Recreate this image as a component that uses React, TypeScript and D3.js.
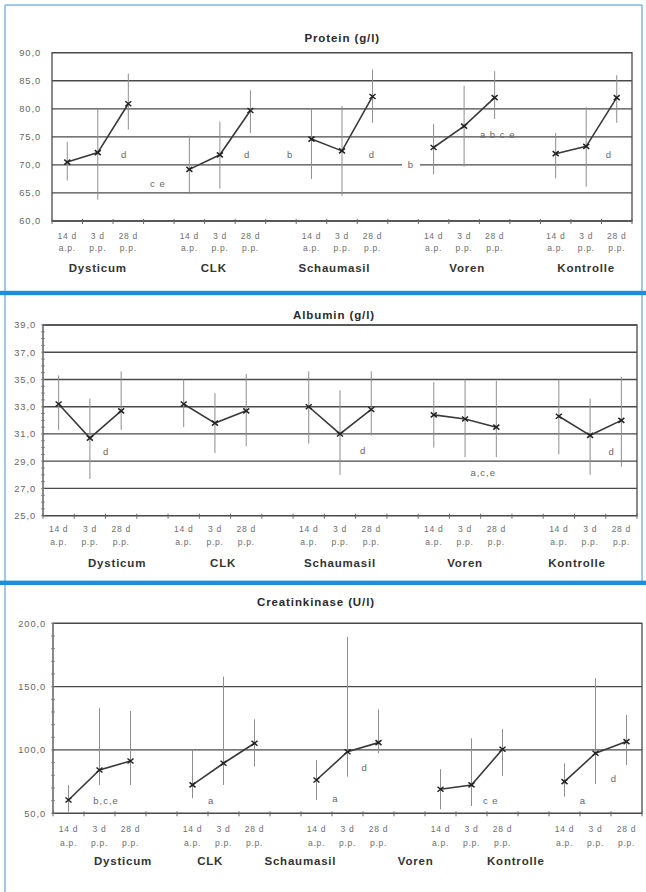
import React, { useEffect } from "react";
import * as d3 from "d3";

// ---------- data ----------
const groups = ["Dysticum", "CLK", "Schaumasil", "Voren", "Kontrolle"];
const timeTop = ["14 d", "3 d", "28 d"];
const timeBottom = ["a.p.", "p.p.", "p.p."];

const proteinMean = [70.5, 72.2, 80.9, 69.2, 71.8, 79.7, 74.6, 72.5, 82.2, 73.1, 76.9, 82.0, 72.0, 73.3, 82.0];
const proteinHigh = [74.1, 80.0, 86.3, 75.2, 77.7, 83.3, 80.0, 80.5, 87.0, 77.3, 84.1, 86.7, 75.7, 80.3, 86.0];
const proteinLow = [67.2, 63.8, 76.3, 64.8, 65.8, 75.7, 67.5, 64.5, 77.5, 68.3, 69.7, 78.2, 67.6, 66.1, 77.5];
const proteinTicks = [60, 65, 70, 75, 80, 85, 90];
const proteinNotes = [
  { t: "d", s: 1.86, v: 71.8, mask: false },
  { t: "c e", s: 2.97, v: 66.7, mask: false },
  { t: "d", s: 5.89, v: 71.8, mask: false },
  { t: "b", s: 7.3, v: 71.8, mask: false },
  { t: "d", s: 9.98, v: 71.8, mask: false },
  { t: "b", s: 11.26, v: 70.0, mask: true },
  { t: "a b c e", s: 14.1, v: 75.5, mask: false },
  { t: "d", s: 17.74, v: 71.8, mask: false },
];
const proteinGroupPos = [1, 4.8, 8.75, 13.1, 17];

const albuminMean = [33.2, 30.7, 32.7, 33.2, 31.8, 32.7, 33.0, 31.0, 32.8, 32.4, 32.1, 31.5, 32.3, 30.9, 32.0];
const albuminHigh = [35.3, 33.6, 35.6, 35.0, 34.0, 35.4, 35.6, 34.2, 35.6, 34.8, 35.0, 34.9, 35.0, 33.6, 35.2];
const albuminLow = [31.3, 27.7, 31.3, 31.5, 29.6, 30.1, 30.3, 28.0, 30.9, 30.0, 29.3, 29.3, 29.5, 28.0, 28.6];
const albuminTicks = [25, 27, 29, 31, 33, 35, 37, 39];
const albuminNotes = [
  { t: "d", s: 1.52, v: 29.7, mask: false },
  { t: "d", s: 9.74, v: 29.75, mask: false },
  { t: "a,c,e", s: 13.58, v: 28.2, mask: false },
  { t: "d", s: 17.69, v: 29.7, mask: false },
];
const albuminGroupPos = [1.87, 5.26, 9.0, 13.0, 16.58];

const ckMean = [60.5, 84.2, 91.3, 72.4, 89.5, 105.3, 76.3, 98.6, 105.8, 69.0, 72.4, 100.6, 75.0, 97.4, 106.6];
const ckHigh = [72.4, 132.9, 130.8, 100, 157.9, 124.2, 92.1, 189.4, 132.1, 84.8, 109.2, 116.6, 89.5, 156.6, 127.6];
const ckLow = [51.3, 72.4, 72.4, 61.9, 72.4, 86.8, 60.5, 78.9, 97.4, 53.2, 55.8, 79.5, 63.1, 73.2, 88.2];
const ckTicks = [50, 100, 150, 200];
const ckNotes = [
  { t: "b,c,e", s: 1.21, v: 60.5, mask: false },
  { t: "a", s: 4.6, v: 60.5, mask: false },
  { t: "a", s: 8.61, v: 61.3, mask: false },
  { t: "d", s: 9.55, v: 85.8, mask: false },
  { t: "c e", s: 13.62, v: 60.5, mask: false },
  { t: "a", s: 16.59, v: 60.5, mask: false },
  { t: "d", s: 17.59, v: 77.1, mask: false },
];
const ckGroupPos = [1.76, 4.57, 7.48, 11.2, 14.43];

// ---------- layout ----------
const FONT = "'Liberation Sans', Arial, sans-serif";
const slots: string[] = [];
groups.forEach((g, gi) => {
  timeTop.forEach((_, ti) => slots.push(`${g}-${ti}`));
  if (gi < groups.length - 1) slots.push(`gap-${gi}`);
});

type Note = { t: string; s: number; v: number; mask: boolean };
type PanelCfg = {
  title: string;
  titleEndX: number;
  titleY: number;
  left: number;
  right: number;
  top: number;
  bottom: number;
  labelGap: number;
  domain: [number, number];
  ticks: number[];
  minorStep: number;
  mean: number[];
  high: number[];
  low: number[];
  notes: Note[];
  groupPos: number[];
  sub1: number;
  sub2: number;
  groupY: number;
};

const panels: PanelCfg[] = [
  {
    title: "Protein (g/l)", titleEndX: 380, titleY: 42,
    left: 52, right: 632, top: 52.7, bottom: 221, labelGap: 11,
    domain: [60, 90], ticks: proteinTicks, minorStep: 0,
    mean: proteinMean, high: proteinHigh, low: proteinLow,
    notes: proteinNotes, groupPos: proteinGroupPos,
    sub1: 239, sub2: 251, groupY: 272,
  },
  {
    title: "Albumin (g/l)", titleEndX: 375, titleY: 319,
    left: 43, right: 637, top: 325, bottom: 515.7, labelGap: 7,
    domain: [25, 39], ticks: albuminTicks, minorStep: 0.5,
    mean: albuminMean, high: albuminHigh, low: albuminLow,
    notes: albuminNotes, groupPos: albuminGroupPos,
    sub1: 532, sub2: 545, groupY: 567,
  },
  {
    title: "Creatinkinase (U/l)", titleEndX: 375, titleY: 605.5,
    left: 53, right: 642, top: 623.3, bottom: 813.3, labelGap: 7,
    domain: [50, 200], ticks: ckTicks, minorStep: 10,
    mean: ckMean, high: ckHigh, low: ckLow,
    notes: ckNotes, groupPos: ckGroupPos,
    sub1: 831.5, sub2: 845.5, groupY: 865,
  },
];

const fmt = (v: number) => v.toFixed(1).replace(".", ",");

function Panel({ cfg }: { cfg: PanelCfg }) {
  const x = d3.scaleBand<string>().domain(slots).range([cfg.left, cfg.right]).padding(0);
  const step = x.step();
  const xs = (s: number) => cfg.left + (s + 0.5) * step;
  const y = d3.scaleLinear().domain(cfg.domain).range([cfg.bottom, cfg.top]);
  const pointX = (gi: number, ti: number) => (x(`${groups[gi]}-${ti}`) as number) + step / 2;
  const line = d3.line<[number, number]>().x((d) => d[0]).y((d) => d[1]);

  const minor: number[] = [];
  if (cfg.minorStep > 0) {
    for (let v = cfg.domain[0]; v <= cfg.domain[1] + 1e-6; v += cfg.minorStep) minor.push(v);
  }
  const boundaries = d3.range(slots.length + 1).map((i) => cfg.left + i * step);

  return (
    <g>
      <text x={cfg.titleEndX} y={cfg.titleY} textAnchor="end" fontFamily={FONT} fontWeight="bold" fontSize={11.5} letterSpacing={0.9} fill="#2a2a2a">
        {cfg.title}
      </text>
      {/* gridlines */}
      {cfg.ticks.map((t) => (
        <line key={"g" + t} x1={cfg.left} x2={cfg.right} y1={y(t)} y2={y(t)} stroke="#4a4a4a" strokeWidth={1.3} />
      ))}
      {/* frame */}
      <rect x={cfg.left} y={cfg.top} width={cfg.right - cfg.left} height={cfg.bottom - cfg.top} fill="none" stroke="#4a4a4a" strokeWidth={1.3} />
      {/* minor y ticks */}
      {minor.map((v, i) => (
        <line key={"m" + i} x1={cfg.left - 2} x2={cfg.left + 2} y1={y(v)} y2={y(v)} stroke="#777" strokeWidth={0.8} />
      ))}
      {/* x ticks at slot boundaries */}
      {boundaries.map((bx, i) => (
        <line key={"xt" + i} x1={bx} x2={bx} y1={cfg.bottom - 2} y2={cfg.bottom + 3} stroke="#666" strokeWidth={1} />
      ))}
      {/* y tick labels */}
      {cfg.ticks.map((t) => (
        <text key={"yl" + t} x={cfg.left - cfg.labelGap} y={y(t) + 3.3} textAnchor="end" fontFamily={FONT} fontSize={9.3} letterSpacing={0.9} fill="#666">
          {fmt(t)}
        </text>
      ))}
      {/* x sublabels */}
      {groups.map((g, gi) =>
        timeTop.map((tt, ti) => (
          <g key={g + ti}>
            <text x={pointX(gi, ti)} y={cfg.sub1} textAnchor="middle" fontFamily={FONT} fontSize={8.5} letterSpacing={0.7} fill="#6e6e6e">
              {tt}
            </text>
            <text x={pointX(gi, ti)} y={cfg.sub2} textAnchor="middle" fontFamily={FONT} fontSize={8.5} letterSpacing={0.7} fill="#6e6e6e">
              {timeBottom[ti]}
            </text>
          </g>
        ))
      )}
      {/* group names */}
      {groups.map((g, gi) => (
        <text key={"gn" + g} x={xs(cfg.groupPos[gi])} y={cfg.groupY} textAnchor="middle" fontFamily={FONT} fontWeight="bold" fontSize={11.5} letterSpacing={0.8} fill="#333">
          {g}
        </text>
      ))}
      {/* annotations */}
      {cfg.notes.map((n, i) => (
        <g key={"n" + i}>
          {n.mask && (
            <rect x={xs(n.s) - 9} y={y(n.v) - 5} width={18} height={10} fill="#fff" />
          )}
          <text x={xs(n.s)} y={y(n.v) + 3.5} textAnchor="middle" fontFamily={FONT} fontSize={9.5} fill="#666" letterSpacing={1}>
            {n.t}
          </text>
        </g>
      ))}
      {/* error bars */}
      {groups.map((g, gi) =>
        timeTop.map((_, ti) => {
          const k = gi * 3 + ti;
          return (
            <line key={"e" + k} x1={pointX(gi, ti)} x2={pointX(gi, ti)} y1={y(cfg.high[k])} y2={y(cfg.low[k])} stroke="#8e8e8e" strokeWidth={1} />
          );
        })
      )}
      {/* lines + markers */}
      {groups.map((g, gi) => {
        const pts: [number, number][] = timeTop.map((_, ti) => [pointX(gi, ti), y(cfg.mean[gi * 3 + ti])]);
        return (
          <g key={"l" + g}>
            <path d={line(pts) || ""} fill="none" stroke="#3a3a3a" strokeWidth={1.6} />
            {pts.map((p, i) => (
              <path
                key={i}
                d={`M${p[0] - 3},${p[1] - 2.5}L${p[0] + 3},${p[1] + 2.5}M${p[0] - 3},${p[1] + 2.5}L${p[0] + 3},${p[1] - 2.5}`}
                stroke="#222"
                strokeWidth={1.5}
              />
            ))}
          </g>
        );
      })}
    </g>
  );
}

export default function App() {
  useEffect(() => {
    document.body.style.margin = "0";
  }, []);
  return (
    <svg width={646} height={892} style={{ position: "absolute", left: 0, top: 0, background: "#fff" }}>
      <rect x={0} y={0} width={646} height={892} fill="#fff" />
      {/* page frame */}
      <line x1={5} x2={642} y1={5} y2={5} stroke="#7db9e3" strokeWidth={1.5} />
      <line x1={5} x2={5} y1={5} y2={892} stroke="#7db9e3" strokeWidth={1.5} />
      <line x1={642} x2={642} y1={5} y2={291} stroke="#7db9e3" strokeWidth={1.5} />
      <line x1={642} x2={642} y1={295} y2={581} stroke="#7db9e3" strokeWidth={1.5} />
      <rect x={0} y={290.8} width={646} height={4.4} fill="#1e8ed6" />
      <rect x={0} y={580.6} width={646} height={4.4} fill="#1e8ed6" />
      {panels.map((p) => (
        <Panel key={p.title} cfg={p} />
      ))}
    </svg>
  );
}
